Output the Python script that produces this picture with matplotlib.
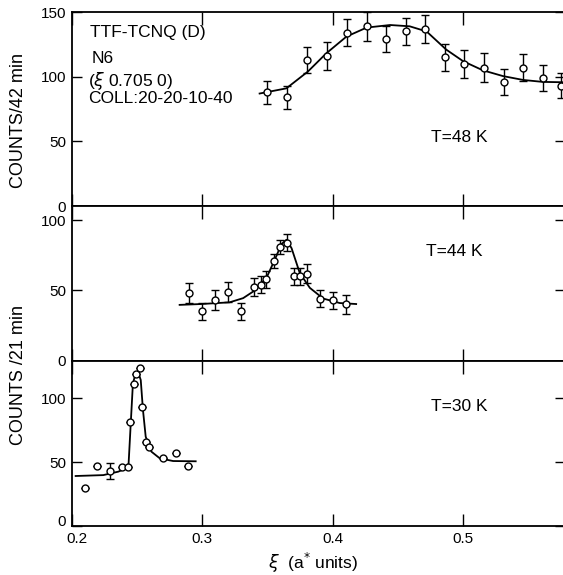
import matplotlib
matplotlib.use('Agg')
import matplotlib.pyplot as plt
import matplotlib.transforms as mtransforms

plt.rcParams['font.family'] = ['Liberation Sans', 'DejaVu Sans']
plt.rcParams['mathtext.fontset'] = 'dejavusans'

# T = 48 K  (counts / 42 min)
x48 = [0.350, 0.365, 0.380, 0.396, 0.411, 0.426, 0.4405, 0.456, 0.471, 0.486,
       0.501, 0.516, 0.531, 0.546, 0.561, 0.575]
y48 = [88, 84, 113, 116, 134, 139, 129, 135, 137, 115, 110, 107, 96, 107, 99, 93]
e48 = [9, 9, 10, 10.5, 10.5, 11, 10, 10.5, 11, 10.5, 11, 11, 10, 10.5, 10, 9.5]
fit48_x = [0.344, 0.3645, 0.381, 0.395, 0.4105, 0.426, 0.444, 0.459, 0.472, 0.487,
           0.500, 0.515, 0.5305, 0.546, 0.561, 0.578]
fit48_y = [87, 91, 104, 118, 131, 138, 140, 139, 135, 121, 112, 105, 100.5, 97.5, 96, 95.7]

# T = 44 K  (counts / 21 min)
x44 = [0.290, 0.300, 0.310, 0.320, 0.330, 0.340, 0.345, 0.349, 0.355, 0.3595,
       0.365, 0.370, 0.375, 0.380, 0.390, 0.400, 0.410]
y44 = [48, 35, 43, 49, 35, 52.6, 54, 58, 71, 81, 84, 60, 60, 62, 44, 43, 40]
e44 = [7, 6, 7, 7, 6, 6.5, 6, 6, 5, 5, 6, 6, 6, 6.5, 6, 6, 6.5]
fit44_x = [0.2827, 0.299, 0.321, 0.3314, 0.3404, 0.3493, 0.3557, 0.3608, 0.3646,
           0.3685, 0.3748, 0.3825, 0.3927, 0.4054, 0.418]
fit44_y = [39.7, 40.3, 41.5, 44.5, 50, 59, 72, 83, 86, 80, 62.3, 51.8, 44.2, 41, 40.3]

# T = 30 K  (counts / 21 min)
x30 = [0.2102, 0.2197, 0.2297, 0.2386, 0.2434, 0.2444, 0.2475, 0.249, 0.2521,
       0.2542, 0.2567, 0.2592, 0.2701, 0.2801, 0.2893]
y30 = [29.7, 47.3, 43.2, 46.6, 46.6, 81.7, 111.2, 119, 123.4, 93, 66.1, 61.7,
       53.6, 57, 47.1]
e30 = [0, 0, 6, 0, 0, 0, 0, 0, 0, 0, 0, 0, 0, 0, 0]
fit30_x = [0.203, 0.2242, 0.2357, 0.2418, 0.2436, 0.2451, 0.2469, 0.249, 0.2508,
           0.2529, 0.2546, 0.2567, 0.2611, 0.2675, 0.2777, 0.295]
fit30_y = [39.3, 40, 42.7, 45.3, 49.2, 77.8, 111.7, 119.5, 120.8, 114.3, 90.9, 70,
           58.3, 53.1, 51, 50.8]

xticks = [0.2, 0.3, 0.4, 0.5]

fig = plt.figure(figsize=(5.63, 5.75), dpi=100)
L, W = 0.1274, 0.876
ax1 = fig.add_axes([L, 0.6417, W, 0.979 - 0.6417])
ax2 = fig.add_axes([L, 0.3727, W, 0.6417 - 0.3727])
ax3 = fig.add_axes([L, 0.0847, W, 0.3727 - 0.0847])

panels = [
    (ax1, x48, y48, e48, fit48_x, fit48_y, (0, 150), [0, 50, 100, 150]),
    (ax2, x44, y44, e44, fit44_x, fit44_y, (0, 110), [0, 50, 100]),
    (ax3, x30, y30, e30, fit30_x, fit30_y, (0, 129.4), [0, 50, 100]),
]

for ax, xs, ys, es, fx, fy, ylim, yt in panels:
    ax.plot(fx, fy, color='black', lw=1.3, zorder=2)
    ax.errorbar(xs, ys, yerr=es, fmt='o', ms=5, mfc='white', mec='black', mew=1.0,
                ecolor='black', elinewidth=1.0, capsize=3, capthick=1.0, zorder=3)
    ax.set_xlim(0.2, 0.578)
    ax.set_ylim(*ylim)
    ax.set_yticks(yt)
    ax.set_xticks(xticks)
    ax.tick_params(direction='in', top=True, right=True, labelsize=11,
                   width=1.0, pad=4)
    ax.tick_params(axis='x', length=9)
    ax.tick_params(axis='y', length=7)
    for s in ax.spines.values():
        s.set_linewidth(1.3)

ax1.tick_params(labelbottom=False)
ax2.tick_params(labelbottom=False)
ax3.set_xticklabels(['0.2', '0.3', '0.4', '0.5'])
# the "0.2" label sits a little right of its tick, clear of the "0" label
lab02 = ax3.get_xticklabels()[0]
lab02.set_transform(lab02.get_transform() +
                    mtransforms.ScaledTranslation(4 / 72, 0, fig.dpi_scale_trans))
lab0 = ax3.get_yticklabels()[0]
lab0.set_transform(lab0.get_transform() +
                   mtransforms.ScaledTranslation(0, 4 / 72, fig.dpi_scale_trans))

fs = 12.5
ax1.text(0.214, 134, 'TTF-TCNQ (D)', fontsize=fs, va='center')
ax1.text(0.2152, 114, 'N6', fontsize=fs, va='center')
ax1.text(0.2125, 97, r'($\xi$ 0.705 0)', fontsize=fs, va='center')
ax1.text(0.2125, 83.5, 'COLL:20-20-10-40', fontsize=fs, va='center')
ax1.text(0.4755, 53, 'T=48 K', fontsize=fs, va='center')
ax2.text(0.4717, 78, 'T=44 K', fontsize=fs, va='center')
ax3.text(0.4755, 93.4, 'T=30 K', fontsize=fs, va='center')

fig.text(0.032, 0.79, 'COUNTS/42 min', rotation=90, fontsize=13,
         ha='center', va='center')
fig.text(0.032, 0.348, 'COUNTS /21 min', rotation=90, fontsize=13,
         ha='center', va='center')
fig.text(0.556, 0.021, r'$\xi$  (a$^{*}$ units)', fontsize=12.5,
         ha='center', va='center')

fig.savefig('out.png', dpi=100)
